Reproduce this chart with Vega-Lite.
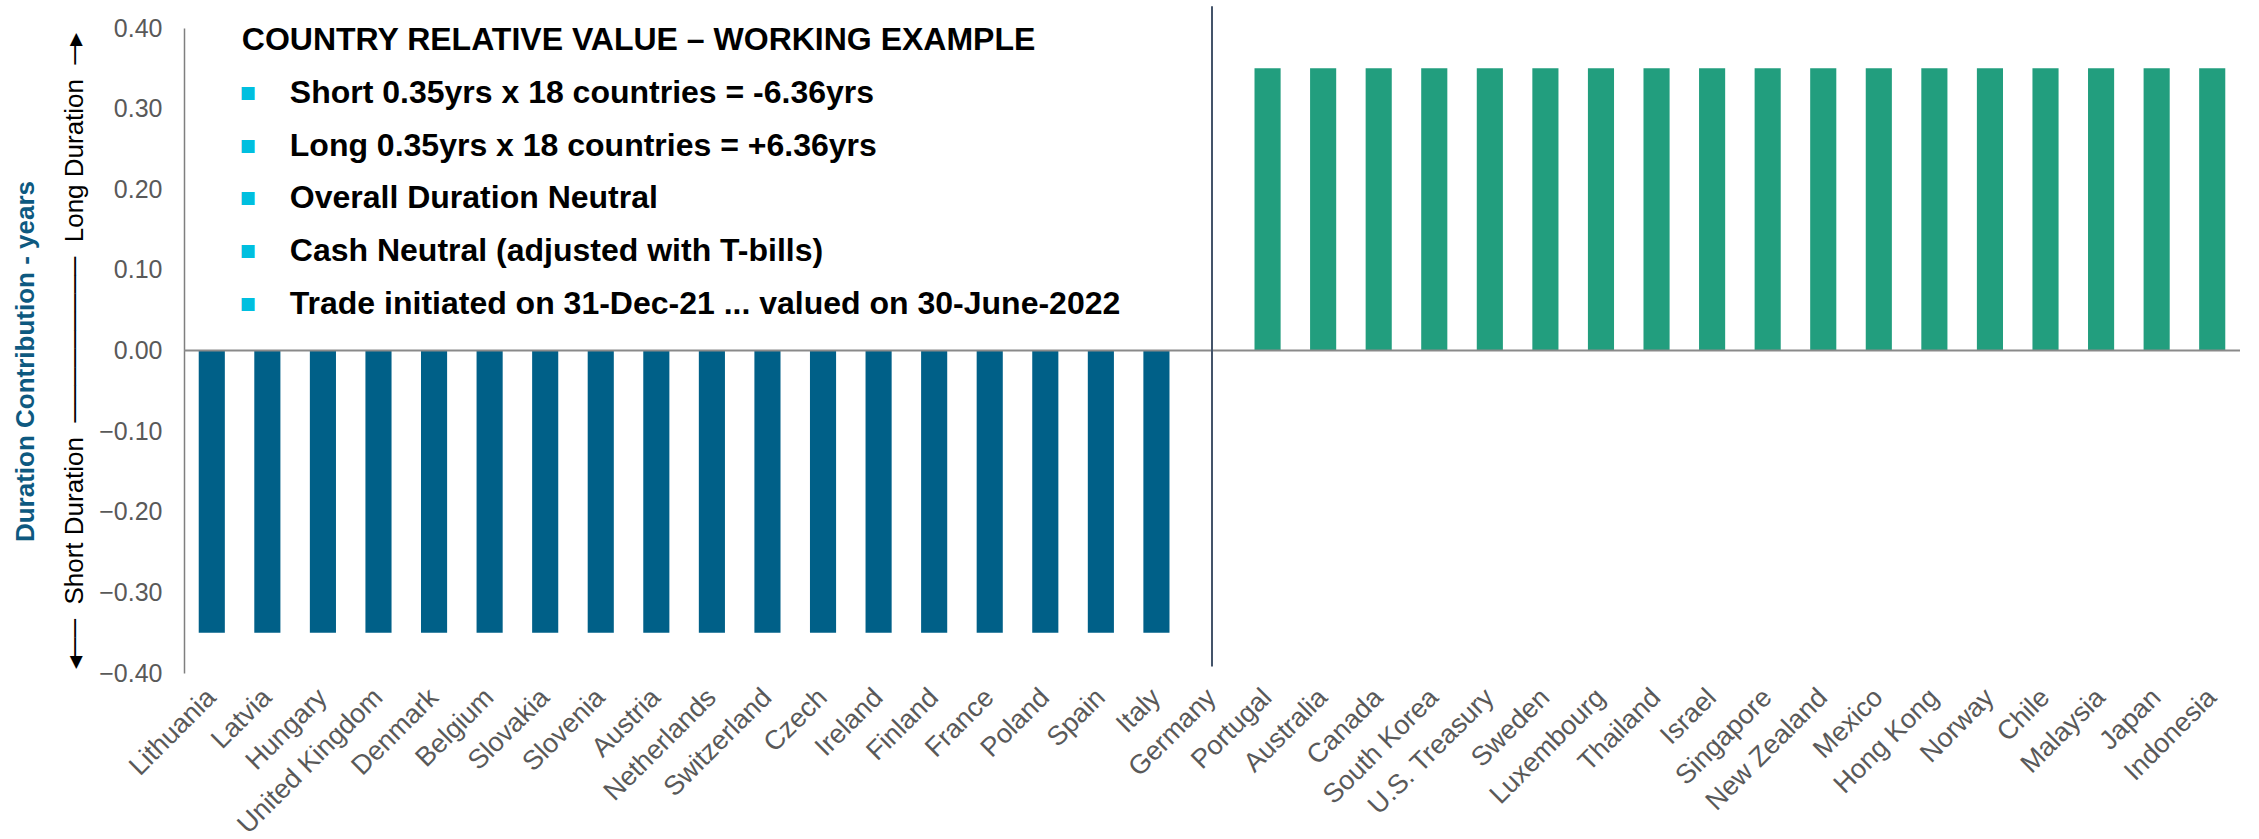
{
  "$schema": "https://vega.github.io/schema/vega-lite/v6.json",
  "width": 2056,
  "height": 645,
  "autosize": {"type": "none"},
  "padding": {"left": 184, "top": 28, "right": 19, "bottom": 166},
  "background": "white",
  "config": {"view": {"stroke": null}, "font": "Liberation Sans"},
  "datasets": {
    "countries": [
      {"country": "Lithuania", "value": -0.35, "side": "Short"},
      {"country": "Latvia", "value": -0.35, "side": "Short"},
      {"country": "Hungary", "value": -0.35, "side": "Short"},
      {"country": "United Kingdom", "value": -0.35, "side": "Short"},
      {"country": "Denmark", "value": -0.35, "side": "Short"},
      {"country": "Belgium", "value": -0.35, "side": "Short"},
      {"country": "Slovakia", "value": -0.35, "side": "Short"},
      {"country": "Slovenia", "value": -0.35, "side": "Short"},
      {"country": "Austria", "value": -0.35, "side": "Short"},
      {"country": "Netherlands", "value": -0.35, "side": "Short"},
      {"country": "Switzerland", "value": -0.35, "side": "Short"},
      {"country": "Czech", "value": -0.35, "side": "Short"},
      {"country": "Ireland", "value": -0.35, "side": "Short"},
      {"country": "Finland", "value": -0.35, "side": "Short"},
      {"country": "France", "value": -0.35, "side": "Short"},
      {"country": "Poland", "value": -0.35, "side": "Short"},
      {"country": "Spain", "value": -0.35, "side": "Short"},
      {"country": "Italy", "value": -0.35, "side": "Short"},
      {"country": "Germany", "value": 0, "side": "Neutral"},
      {"country": "Portugal", "value": 0.35, "side": "Long"},
      {"country": "Australia", "value": 0.35, "side": "Long"},
      {"country": "Canada", "value": 0.35, "side": "Long"},
      {"country": "South Korea", "value": 0.35, "side": "Long"},
      {"country": "U.S. Treasury", "value": 0.35, "side": "Long"},
      {"country": "Sweden", "value": 0.35, "side": "Long"},
      {"country": "Luxembourg", "value": 0.35, "side": "Long"},
      {"country": "Thailand", "value": 0.35, "side": "Long"},
      {"country": "Israel", "value": 0.35, "side": "Long"},
      {"country": "Singapore", "value": 0.35, "side": "Long"},
      {"country": "New Zealand", "value": 0.35, "side": "Long"},
      {"country": "Mexico", "value": 0.35, "side": "Long"},
      {"country": "Hong Kong", "value": 0.35, "side": "Long"},
      {"country": "Norway", "value": 0.35, "side": "Long"},
      {"country": "Chile", "value": 0.35, "side": "Long"},
      {"country": "Malaysia", "value": 0.35, "side": "Long"},
      {"country": "Japan", "value": 0.35, "side": "Long"},
      {"country": "Indonesia", "value": 0.35, "side": "Long"}
    ],
    "notes": [
      {"line": 0, "text": "COUNTRY RELATIVE VALUE \u2013 WORKING EXAMPLE"},
      {"line": 1, "text": "Short 0.35yrs x 18 countries = -6.36yrs"},
      {"line": 2, "text": "Long 0.35yrs x 18 countries = +6.36yrs"},
      {"line": 3, "text": "Overall Duration Neutral"},
      {"line": 4, "text": "Cash Neutral (adjusted with T-bills)"},
      {"line": 5, "text": "Trade initiated on 31-Dec-21 ... valued on 30-June-2022"}
    ]
  },
  "layer": [
    {
      "layer": [
        {
          "data": {"name": "countries"},
          "mark": {"type": "bar"},
          "encoding": {
            "x": {
              "field": "country",
              "type": "nominal",
              "sort": null,
              "scale": {
                "domain": ["Lithuania", "Latvia", "Hungary", "United Kingdom", "Denmark", "Belgium", "Slovakia", "Slovenia", "Austria", "Netherlands", "Switzerland", "Czech", "Ireland", "Finland", "France", "Poland", "Spain", "Italy", "Germany", "Portugal", "Australia", "Canada", "South Korea", "U.S. Treasury", "Sweden", "Luxembourg", "Thailand", "Israel", "Singapore", "New Zealand", "Mexico", "Hong Kong", "Norway", "Chile", "Malaysia", "Japan", "Indonesia"],
                "paddingInner": 0.53,
                "paddingOuter": 0.265
              },
              "axis": {
                "title": null,
                "labelAngle": -45,
                "labelAlign": "right",
                "labelBaseline": "middle",
                "labelFontSize": 27,
                "labelColor": "#595959",
                "labelPadding": 20,
                "labelLimit": 0,
                "ticks": false,
                "domain": false,
                "grid": false
              }
            },
            "y": {
              "field": "value",
              "type": "quantitative",
              "scale": {"domain": [-0.4, 0.4], "nice": false, "zero": false},
              "axis": {
                "values": [-0.4, -0.3, -0.2, -0.1, 0, 0.1, 0.2, 0.3, 0.4],
                "format": ".2f",
                "labelFontSize": 25,
                "labelColor": "#595959",
                "labelPadding": 22,
                "ticks": false,
                "grid": false,
                "domainColor": "#7f7f7f",
                "domainWidth": 1.5,
                "title": "Duration Contribution - years",
                "titleFontSize": 26,
                "titleFontWeight": "bold",
                "titleColor": "#0E5980",
                "titlePadding": 60,
                "titleY": 333
              }
            },
            "color": {
              "field": "side",
              "type": "nominal",
              "scale": {"domain": ["Short", "Neutral", "Long"], "range": ["#006088", "#7f7f7f", "#229E7E"]},
              "legend": null
            }
          }
        },
        {
          "data": {"values": [{}]},
          "mark": {"type": "rule", "color": "#8a8a8a", "strokeWidth": 2},
          "encoding": {"y": {"datum": 0, "type": "quantitative"}}
        },
        {
          "data": {"values": [{}]},
          "mark": {"type": "rule", "color": "#44546A", "strokeWidth": 2},
          "encoding": {
            "x": {"datum": "Germany", "type": "nominal"},
            "y": {"datum": 0.427, "type": "quantitative"},
            "y2": {"datum": -0.392}
          }
        }
      ]
    },
    {
      "data": {"name": "notes"},
      "encoding": {
        "x": {"datum": "Lithuania", "type": "nominal"},
        "y": {
          "field": "line",
          "type": "quantitative",
          "scale": {"domain": [-0.227, 11.989], "reverse": true, "nice": false, "zero": false},
          "axis": {
            "orient": "left",
            "labels": false,
            "ticks": false,
            "domain": false,
            "grid": false,
            "title": "\u25c2\u2500\u2500\u00a0\u00a0Short Duration\u00a0\u00a0\u2500\u2500\u2500\u2500\u2500\u2500\u2500\u2500\u2500\u00a0\u00a0Long Duration\u00a0\u00a0\u2500\u25b8",
            "titleFontSize": 26,
            "titleFontWeight": "normal",
            "titleColor": "#000000",
            "titlePadding": 97
          }
        }
      },
      "layer": [
        {
          "transform": [{"filter": "datum.line == 0"}],
          "mark": {"type": "text", "align": "left", "baseline": "middle", "dx": 30, "fontSize": 32, "fontWeight": "bold", "color": "#000000"},
          "encoding": {"text": {"field": "text"}}
        },
        {
          "transform": [{"filter": "datum.line > 0"}],
          "mark": {"type": "text", "align": "center", "baseline": "middle", "dx": 36, "fontSize": 17, "font": "DejaVu Sans", "color": "#00BFDF"},
          "encoding": {"text": {"value": "\u25a0"}}
        },
        {
          "transform": [{"filter": "datum.line > 0"}],
          "mark": {"type": "text", "align": "left", "baseline": "middle", "dx": 78, "fontSize": 32, "fontWeight": "bold", "color": "#000000"},
          "encoding": {"text": {"field": "text"}}
        }
      ]
    }
  ],
  "resolve": {"scale": {"y": "independent"}}
}
